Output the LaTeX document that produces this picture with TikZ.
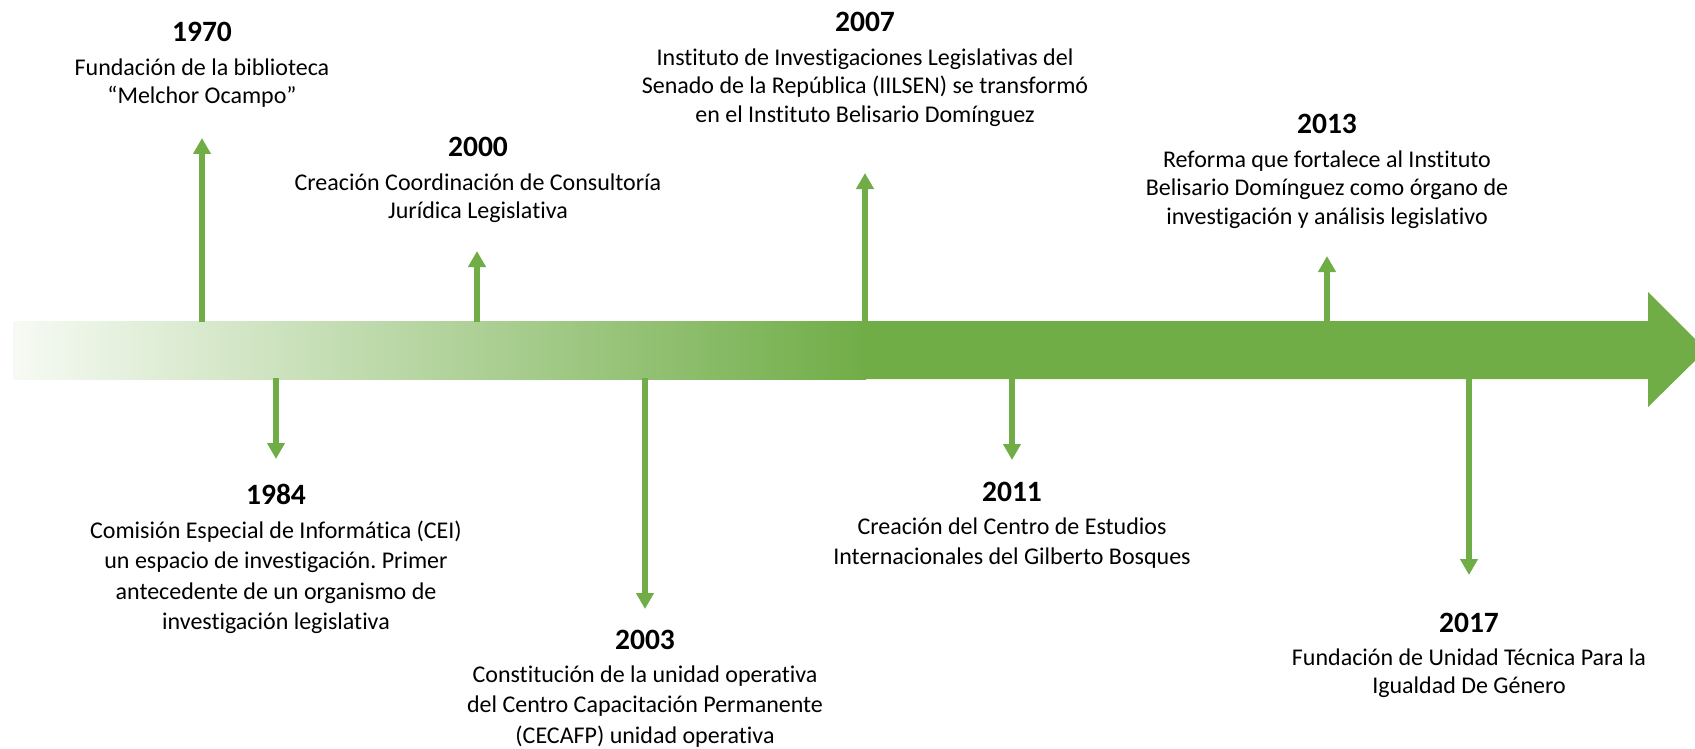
\documentclass[tikz,border=0pt]{standalone}
\usepackage{fontspec}
\setmainfont{Carlito}[Ligatures={NoCommon,NoContextual}]
\usepackage{xcolor}
\usetikzlibrary{positioning}
\usetikzlibrary {arrows.meta}
\definecolor{cgreen}{HTML}{70AD47}
\frenchspacing

\begin{document}
\begin{tikzpicture}[x=1pt, y=-1pt]
    \tikzset{
        yearlbl/.style={font=\fontsize{29.5}{34}\selectfont\bfseries, inner sep=0pt},
        desclbl/.style={font=\fontsize{24}{28.5}\selectfont, align=center, inner sep=0pt},
        desclow/.style={desclbl, font=\fontsize{24}{30.5}\selectfont},
        hito/.style={draw=cgreen, line width=6pt, -{Triangle[width=17pt, length=16pt]}},
        node distance=16pt
    }
    \clip (0,0) rectangle (1695,749);

    % timeline
    \fill[cgreen] (860,321) -- (1648,321) -- (1648,292) -- (1706,350) -- (1648,407) -- (1648,379) -- (860,379) -- cycle;
    \shade[left color=cgreen!6, right color=cgreen] (13,321) rectangle (866,379);

    \node[yearlbl, anchor=base] (y1970) at (202,42) {1970};
    \node[yearlbl, anchor=base] (y2000) at (478,157) {2000};
    \node[yearlbl, anchor=base] (y2007) at (865,32) {2007};
    \node[yearlbl, anchor=base] (y2013) at (1327,134) {2013};
    \node[yearlbl, anchor=base] (y1984) at (276,504) {1984};
    \node[yearlbl, anchor=base] (y2003) at (645,649) {2003};
    \node[yearlbl, anchor=base] (y2011) at (1012,501) {2011};
    \node[yearlbl, anchor=base] (y2017) at (1469,632) {2017};

    \node[desclbl, below=of y1970] (d1970) {Fundación de la biblioteca\\“Melchor Ocampo”};
    \node[desclbl, below=of y2000] (d2000) {Creación Coordinación de Consultoría\\Jurídica Legislativa};
    \node[desclbl, below=of y2007] (d2007) {Instituto de Investigaciones Legislativas del\\Senado de la República (IILSEN) se transformó\\en el Instituto Belisario Domínguez};
    \node[desclbl, below=of y2013] (d2013) {Reforma que fortalece al Instituto\\Belisario Domínguez como órgano de\\investigación y análisis legislativo};
    \node[desclow, below=of y1984] (d1984) {Comisión Especial de Informática (CEI)\\un espacio de investigación. Primer\\antecedente de un organismo de\\investigación legislativa};
    \node[desclow, below=of y2003] (d2003) {Constitución de la unidad operativa\\del Centro Capacitación Permanente\\(CECAFP) unidad operativa};
    \node[desclow, below=of y2011] (d2011) {Creación del Centro de Estudios\\Internacionales del Gilberto Bosques};
    \node[desclbl, below=of y2017] (d2017) {Fundación de Unidad Técnica Para la\\Igualdad De Género};

    \coordinate (b1970) at (202,322);
    \coordinate (t1970) at (202,138);
    \coordinate (b2000) at (477,322);
    \coordinate (t2000) at (477,251);
    \coordinate (b2007) at (865,322);
    \coordinate (t2007) at (865,173);
    \coordinate (b2013) at (1327,322);
    \coordinate (t2013) at (1327,256);
    \coordinate (b1984) at (276,378);
    \coordinate (t1984) at (276,459);
    \coordinate (b2003) at (645,378);
    \coordinate (t2003) at (645,609);
    \coordinate (b2011) at (1012,378);
    \coordinate (t2011) at (1012,460);
    \coordinate (b2017) at (1469,378);
    \coordinate (t2017) at (1469,575);

    \path[hito] (b1970) -- (t1970);
    \path[hito] (b2000) -- (t2000);
    \path[hito] (b2007) -- (t2007);
    \path[hito] (b2013) -- (t2013);
    \path[hito] (b1984) -- (t1984);
    \path[hito] (b2003) -- (t2003);
    \path[hito] (b2011) -- (t2011);
    \path[hito] (b2017) -- (t2017);
\end{tikzpicture}
\end{document}
